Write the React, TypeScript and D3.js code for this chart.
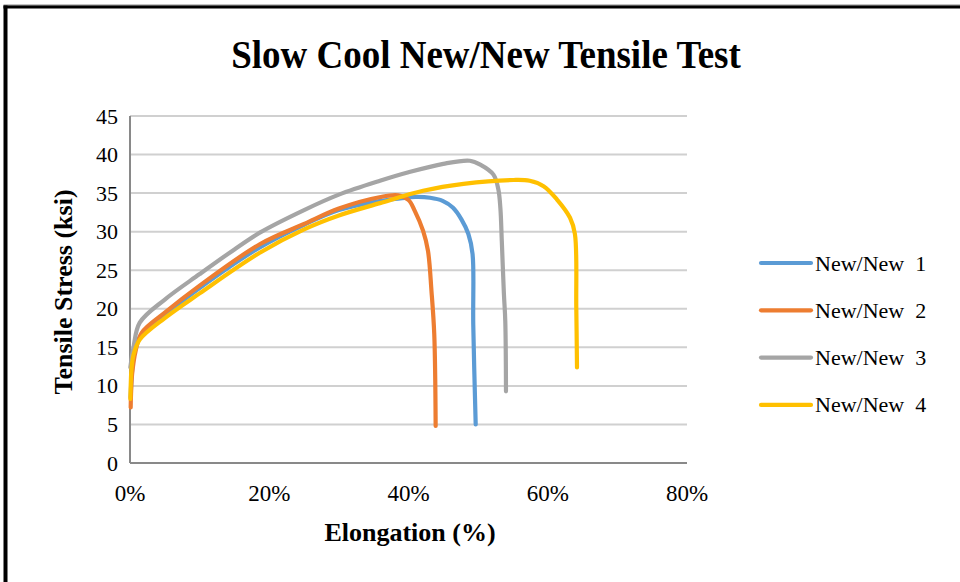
import React from "react";
import * as d3 from "d3";

const title = "Slow Cool New/New Tensile Test";
const xTitle = "Elongation (%)";
const yTitle = "Tensile Stress (ksi)";
const seriesNames = ["New/New  1", "New/New  2", "New/New  3", "New/New  4"];
const seriesColors = ["#5B9BD5", "#ED7D31", "#A5A5A5", "#FFC000"];
const yTicks = [0, 5, 10, 15, 20, 25, 30, 35, 40, 45];
const xTicks = [0, 0.2, 0.4, 0.6, 0.8];

// elongation (%) and stress (ksi) per specimen
const new1Elong = [0.1, 0.3, 0.8, 1.6, 5, 10, 18.7, 25, 30, 36, 38.8, 41, 43.1, 44.9, 46.4, 47.6, 48.6, 49.2, 49.3, 49.65];
const new1Stress = [8.5, 12, 15, 16.6, 19.2, 22.7, 28, 30.9, 32.8, 34, 34.3, 34.5, 34.4, 34, 33.1, 31.6, 29.7, 27.1, 18, 5];

const new2Elong = [0.1, 0.15, 0.3, 0.8, 1.7, 5, 10, 18.7, 25, 30, 36, 38.5, 40, 40.9, 42.1, 42.8, 43.3, 43.7, 43.9];
const new2Stress = [7.2, 9, 11.5, 14.5, 16.9, 19.5, 23, 28.4, 31, 33, 34.5, 34.7, 34.1, 32.7, 30.1, 27.5, 22.3, 16.7, 4.8];

const new3Elong = [0.05, 0.5, 1.4, 5, 10, 15, 18.7, 25, 30, 35.9, 40, 45, 48.8, 50.3, 52.2, 52.9, 53.2, 53.4, 53.7, 53.9, 54];
const new3Stress = [12.4, 15, 18.2, 21.2, 24.5, 27.7, 29.9, 32.8, 34.8, 36.6, 37.7, 38.8, 39.2, 38.7, 37.4, 35.5, 33, 28.8, 22, 18.4, 9.3];

const new4Elong = [0.05, 0.1, 0.2, 0.5, 1.4, 5, 10, 18.7, 25, 30, 35.9, 42.1, 47.9, 55.1, 57.4, 59.4, 61.3, 63.2, 63.9, 64.1, 64.2];
const new4Stress = [8.3, 10, 12, 14, 16, 18.8, 22, 27.3, 30.3, 32.1, 33.7, 35.3, 36.2, 36.7, 36.6, 35.9, 34.2, 31.8, 29.7, 20.1, 12.4];

const elongs = [new1Elong, new2Elong, new3Elong, new4Elong];
const stresses = [new1Stress, new2Stress, new3Stress, new4Stress];

const W = 960;
const H = 582;
const plot = { left: 130, right: 687, top: 116, bottom: 463 };
const font = "'Liberation Serif', 'Times New Roman', serif";

export default function App() {
  const x = d3.scaleLinear().domain([0, 0.8]).range([plot.left, plot.right]);
  const y = d3.scaleLinear().domain([0, 45]).range([plot.bottom, plot.top]);
  const line = d3
    .line<[number, number]>()
    .x((d) => x(d[0] / 100))
    .y((d) => y(d[1]))
    .curve(d3.curveCatmullRom.alpha(0.5));
  const fmt = d3.format(".0%");

  return (
    <svg
      width={W}
      height={H}
      style={{ position: "absolute", left: 0, top: 0, background: "#fff" }}
      fontFamily={font}
    >
      <rect x={0} y={0} width={W} height={H} fill="#fff" />
      {/* frame */}
      <rect x={3.5} y={4.5} width={W} height={1.2} fill="#888" />
      <rect x={3.5} y={5.5} width={W} height={3} fill="#000" />
      <rect x={3.5} y={5.5} width={4} height={H} fill="#000" />

      <text
        transform="translate(486, 68) scale(1, 1.1)"
        textAnchor="middle"
        fontSize={37}
        fontWeight="bold"
        fill="#000"
      >
        {title}
      </text>

      {/* gridlines */}
      {yTicks.map((t) =>
        t === 0 ? null : (
          <line key={t} x1={plot.left} x2={plot.right} y1={y(t)} y2={y(t)} stroke="#D0D0D0" strokeWidth={2} />
        )
      )}
      {/* axes */}
      <line x1={plot.left} x2={plot.right} y1={y(0)} y2={y(0)} stroke="#898989" strokeWidth={2} />
      <line x1={plot.left} x2={plot.left} y1={y(45)} y2={y(0)} stroke="#898989" strokeWidth={2} />

      {yTicks.map((t) => (
        <text key={t} x={118} y={y(t) + 7.5} textAnchor="end" fontSize={22} fill="#000">
          {t}
        </text>
      ))}
      {xTicks.map((t) => (
        <text key={t} x={x(t)} y={501} textAnchor="middle" fontSize={23} fill="#000">
          {fmt(t)}
        </text>
      ))}

      <text x={410} y={541} textAnchor="middle" fontSize={26} fontWeight="bold" fill="#000">
        {xTitle}
      </text>
      <text
        transform={`translate(72, ${292}) rotate(-90)`}
        textAnchor="middle"
        fontSize={26}
        fontWeight="bold"
        fill="#000"
      >
        {yTitle}
      </text>

      {elongs.map((el, i) => {
        const pts = el.map((e, k) => [e, stresses[i][k]] as [number, number]);
        return (
          <path
            key={i}
            d={line(pts) || ""}
            fill="none"
            stroke={seriesColors[i]}
            strokeWidth={4.2}
            strokeLinecap="round"
            strokeLinejoin="round"
          />
        );
      })}

      {seriesNames.map((n, i) => {
        const ly = 263 + i * 47.3;
        return (
          <g key={n}>
            <line x1={761} x2={811} y1={ly} y2={ly} stroke={seriesColors[i]} strokeWidth={4.2} strokeLinecap="round" />
            <text x={815} y={ly + 7.5} fontSize={22} fill="#000" style={{ whiteSpace: "pre" }}>
              {n}
            </text>
          </g>
        );
      })}
    </svg>
  );
}
